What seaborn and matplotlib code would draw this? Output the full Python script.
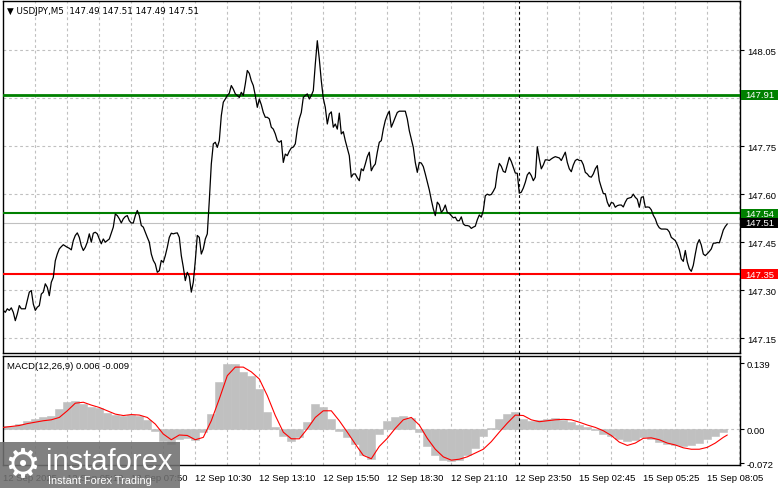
import numpy as np
import pandas as pd
import matplotlib
matplotlib.use("Agg")
import matplotlib.pyplot as plt
import seaborn as sns
from matplotlib.patches import Rectangle
from matplotlib.transforms import blended_transform_factory

# USDJPY M5 closes, one per bar (bar 0 = 12 Sep 02:30)
close = [
    147.237, 147.231, 147.242, 147.237, 147.245, 147.231, 147.205, 147.226, 147.252, 147.242,
    147.242, 147.242, 147.268, 147.294, 147.299, 147.257, 147.237, 147.247, 147.252, 147.288,
    147.294, 147.320, 147.309, 147.283, 147.325, 147.340, 147.392, 147.413, 147.429, 147.436,
    147.442, 147.438, 147.434, 147.431, 147.426, 147.455, 147.471, 147.479, 147.465, 147.439,
    147.424, 147.434, 147.450, 147.476, 147.450, 147.478, 147.481, 147.476, 147.460, 147.445,
    147.460, 147.450, 147.455, 147.460, 147.478, 147.497, 147.538, 147.533, 147.523, 147.510,
    147.523, 147.530, 147.533, 147.517, 147.510, 147.510, 147.533, 147.549, 147.533, 147.502,
    147.497, 147.481, 147.465, 147.450, 147.413, 147.393, 147.382, 147.356, 147.361, 147.393,
    147.387, 147.408, 147.434, 147.465, 147.478, 147.476, 147.478, 147.479, 147.465, 147.408,
    147.372, 147.330, 147.356, 147.343, 147.294, 147.325, 147.392, 147.471, 147.465, 147.413,
    147.429, 147.460, 147.476, 147.580, 147.694, 147.757, 147.762, 147.746, 147.767, 147.845,
    147.887, 147.897, 147.908, 147.915, 147.939, 147.928, 147.913, 147.908, 147.902, 147.918,
    147.908, 147.944, 147.986, 147.977, 147.954, 147.939, 147.908, 147.871, 147.897, 147.879,
    147.855, 147.840, 147.840, 147.835, 147.809, 147.803, 147.788, 147.767, 147.762, 147.767,
    147.699, 147.725, 147.720, 147.734, 147.744, 147.747, 147.757, 147.803, 147.835, 147.855,
    147.902, 147.908, 147.913, 147.897, 147.908, 147.923, 148.006, 148.079, 148.022, 147.954,
    147.899, 147.871, 147.819, 147.850, 147.857, 147.809, 147.819, 147.803, 147.853, 147.788,
    147.795, 147.767, 147.743, 147.720, 147.653, 147.663, 147.663, 147.651, 147.642, 147.679,
    147.673, 147.694, 147.717, 147.731, 147.673, 147.686, 147.694, 147.731, 147.762, 147.767,
    147.803, 147.830, 147.847, 147.859, 147.809, 147.824, 147.840, 147.855, 147.859, 147.859,
    147.859, 147.859, 147.835, 147.798, 147.772, 147.746, 147.699, 147.668, 147.699, 147.697,
    147.686, 147.663, 147.638, 147.613, 147.582, 147.554, 147.533, 147.575, 147.567, 147.543,
    147.551, 147.566, 147.543, 147.540, 147.533, 147.526, 147.528, 147.517, 147.517, 147.529,
    147.507, 147.502, 147.502, 147.500, 147.493, 147.497, 147.500, 147.520, 147.535, 147.528,
    147.549, 147.595, 147.600, 147.597, 147.599, 147.609, 147.621, 147.668, 147.696, 147.687,
    147.671, 147.668, 147.692, 147.715, 147.702, 147.684, 147.666, 147.665, 147.603, 147.606,
    147.619, 147.637, 147.660, 147.668, 147.658, 147.642, 147.653, 147.748, 147.710, 147.679,
    147.691, 147.707, 147.707, 147.705, 147.710, 147.714, 147.717, 147.715, 147.713, 147.705,
    147.718, 147.731, 147.699, 147.679, 147.670, 147.691, 147.705, 147.709, 147.705, 147.705,
    147.692, 147.668, 147.663, 147.655, 147.653, 147.663, 147.679, 147.689, 147.642, 147.621,
    147.602, 147.601, 147.575, 147.561, 147.574, 147.572, 147.559, 147.564, 147.566, 147.566,
    147.560, 147.575, 147.586, 147.588, 147.590, 147.600, 147.590, 147.584, 147.559, 147.590,
    147.592, 147.559, 147.560, 147.559, 147.551, 147.534, 147.523, 147.505, 147.495, 147.491,
    147.491, 147.491, 147.490, 147.482, 147.465, 147.460, 147.455, 147.442, 147.426, 147.398,
    147.390, 147.424, 147.388, 147.367, 147.359, 147.378, 147.413, 147.445, 147.458, 147.441,
    147.413, 147.408, 147.414, 147.421, 147.429, 147.447, 147.447, 147.449, 147.448, 147.467,
    147.488, 147.499, 147.507,
]
bars = list(range(len(close)))

# MACD(12,26,9) read every 4 bars
macd_bars = list(range(0, 361, 4))
macd_main = [
    0.006, 0.008, 0.011, 0.018, 0.022, 0.025, 0.029, 0.043, 0.057, 0.060,
    0.053, 0.048, 0.044, 0.034, 0.030, 0.029, 0.031, 0.029, 0.020, -0.003,
    -0.024, -0.031, -0.020, -0.019, -0.022, -0.006, 0.032, 0.099, 0.138, 0.138,
    0.121, 0.113, 0.085, 0.036, 0.004, -0.015, -0.024, -0.017, 0.015, 0.053,
    0.046, 0.022, -0.003, -0.017, -0.031, -0.055, -0.062, -0.010, 0.018, 0.025,
    0.029, 0.023, -0.006, -0.035, -0.055, -0.065, -0.067, -0.065, -0.055, -0.040,
    -0.015, 0.002, 0.022, 0.032, 0.037, 0.022, 0.018, 0.020, 0.022, 0.023,
    0.020, 0.015, 0.010, 0.004, -0.001, -0.010, -0.015, -0.020, -0.024, -0.022,
    -0.017, -0.020, -0.026, -0.031, -0.034, -0.036, -0.034, -0.029, -0.020, -0.015,
    -0.006,
]
signal_bars = list(range(0, 361, 4)) + [362]
macd_signal = [
    0.004, 0.006, 0.008, 0.012, 0.015, 0.018, 0.020, 0.025, 0.039, 0.055,
    0.057, 0.051, 0.046, 0.039, 0.032, 0.029, 0.031, 0.030, 0.025, 0.011,
    -0.010, -0.022, -0.012, -0.013, -0.022, -0.017, 0.018, 0.064, 0.113, 0.131,
    0.131, 0.121, 0.106, 0.071, 0.029, -0.006, -0.020, -0.020, 0.001, 0.025,
    0.039, 0.039, 0.018, -0.006, -0.031, -0.055, -0.062, -0.036, -0.019, 0.002,
    0.020, 0.025, 0.009, -0.019, -0.042, -0.058, -0.065, -0.063, -0.058, -0.050,
    -0.042, -0.026, -0.006, 0.013, 0.030, 0.029, 0.020, 0.016, 0.018, 0.020,
    0.021, 0.020, 0.015, 0.009, 0.004, -0.003, -0.013, -0.027, -0.034, -0.029,
    -0.019, -0.018, -0.022, -0.029, -0.033, -0.039, -0.042, -0.042, -0.038, -0.029,
    -0.017, -0.012,
]

tick_bars = list(range(0, 353, 32))
tick_labels = ["12 Sep 2025", "12 Sep 05:10", "12 Sep 07:50", "12 Sep 10:30", "12 Sep 13:10",
               "12 Sep 15:50", "12 Sep 18:30", "12 Sep 21:10", "12 Sep 23:50", "15 Sep 02:45",
               "15 Sep 05:25", "15 Sep 08:05"]
price_ticks = [148.05, 147.90, 147.75, 147.60, 147.45, 147.30, 147.15]
price_tick_labels = ["148.05", "", "147.75", "147.60", "147.45", "147.30", "147.15"]

levels = [147.91, 147.54, 147.35]
level_colors = ["#008000", "#008000", "#ff0000"]
level_widths = [2.0, 1.5, 1.5]
bid = 147.51
separator_bar = 258

sns.set_theme(style="white")
plt.rcParams["font.family"] = ["Liberation Sans Narrow", "Liberation Sans", "DejaVu Sans"]
plt.rcParams["font.size"] = 6.8

fig = plt.figure(figsize=(7.81, 4.89), dpi=100)
ax = fig.add_axes([3 / 781, 1 - 354 / 489, 737 / 781, 352 / 489])
ax2 = fig.add_axes([3 / 781, 1 - 466 / 489, 737 / 781, 109 / 489])

grid_kw = dict(color="#c0c0c0", lw=0.8, ls=(0, (2.5, 2.5)), zorder=0)
for a in (ax, ax2):
    for b in range(16, 369, 16):
        a.axvline(b, **grid_kw)
for p in price_ticks:
    ax.axhline(p, **grid_kw)
ax2.axhline(0, **grid_kw)

# price panel
sns.lineplot(x=bars, y=close, color="black", lw=0.9, ax=ax, zorder=4)
for lv, c, w in zip(levels, level_colors, level_widths):
    ax.axhline(lv, color=c, lw=w, zorder=3)
ax.axhline(bid, color="#c0c0c0", lw=0.8, zorder=2)
ax.set_xlim(-0.15, 368.35)
ax.set_ylim(147.104, 148.203)
ax.set_xticks([])
ax.yaxis.tick_right()
ax.set_yticks(price_ticks, price_tick_labels)
ax.tick_params(axis="y", length=3, width=0.8, pad=2, colors="black", labelsize=6.8)

# price tags on the right scale
tr = blended_transform_factory(ax.transAxes, ax.transData)
tag_h = 0.0295
for lv, c in zip(levels + [bid], level_colors + ["black"]):
    ax.add_patch(Rectangle((1.0015, lv - tag_h / 2), 0.0505, tag_h, transform=tr, fc=c,
                           ec="none", clip_on=False, zorder=6))
    ax.text(1.027, lv, f"{lv:.2f}", transform=tr, color="white", va="center", ha="center",
            fontsize=6.8, zorder=7, clip_on=False)
ax.text(0.006, 0.985, "\u25bc USDJPY,M5  147.49 147.51 147.49 147.51", transform=ax.transAxes,
        va="top", ha="left", fontsize=6.3, color="black",
        family=["Liberation Sans Narrow", "DejaVu Sans"])

# MACD panel
sns.barplot(x=macd_bars, y=macd_main, native_scale=True, width=1.0, color="#c0c0c0",
            edgecolor="#c0c0c0", linewidth=0.4, errorbar=None, saturation=1, ax=ax2, zorder=2)
sns.lineplot(x=signal_bars, y=macd_signal, color="red", lw=0.8, ax=ax2, zorder=3)
ax2.set_xlim(-0.15, 368.35)
ax2.set_ylim(-0.0752, 0.1544)
ax2.yaxis.tick_right()
ax2.set_yticks([0.139, 0.0, -0.072], ["0.139", "0.00", "-0.072"])
ax2.tick_params(axis="y", length=3, width=0.8, pad=2, colors="black", labelsize=6.8)
ax2.set_xticks(tick_bars, tick_labels, ha="left")
ax2.tick_params(axis="x", length=3, width=0.8, pad=3, colors="black", labelsize=6.8)
ax2.text(0.006, 0.95, "MACD(12,26,9) 0.006 -0.009", transform=ax2.transAxes,
         va="top", ha="left", fontsize=6.8, color="black")
ax2.set_xlabel("")
ax2.set_ylabel("")
ax.set_xlabel("")
ax.set_ylabel("")

for a in (ax, ax2):
    a.axvline(separator_bar, color="black", lw=0.8, ls=(0, (2.5, 2.5)), zorder=5)
    for s in a.spines.values():
        s.set_visible(True)
        s.set_color("black")
        s.set_linewidth(1.0)

# watermark
fig.add_artist(Rectangle((0, 0), 180 / 781, 46 / 489, transform=fig.transFigure,
                         color="#707070", alpha=0.88, lw=0, zorder=10))
fig.text(4 / 781, 23 / 489, "\u2699", color="white", fontsize=29, va="center", ha="left",
         family="DejaVu Sans", zorder=11)
fig.text(46 / 781, 27 / 489, "instaforex", color="white", fontsize=21, va="center", ha="left",
         family="Liberation Sans", zorder=11)
fig.text(48 / 781, 8 / 489, "Instant Forex Trading", color="white", fontsize=7.8, va="center",
         ha="left", family="Liberation Sans", zorder=11)

fig.savefig("out.png", dpi=100)
